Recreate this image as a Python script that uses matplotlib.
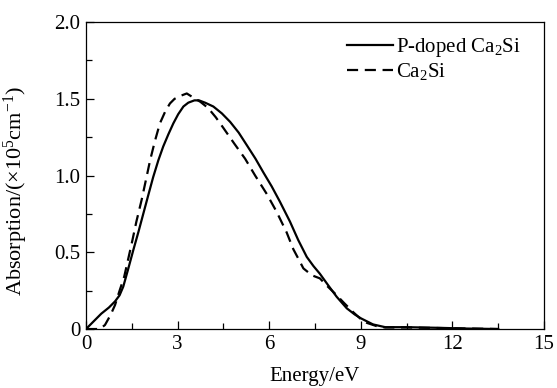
import matplotlib
matplotlib.use("Agg")
import matplotlib.pyplot as plt
from matplotlib.ticker import MultipleLocator

plt.rcParams['font.family'] = ['Liberation Serif', 'DejaVu Serif']
plt.rcParams['mathtext.fontset'] = 'custom'
plt.rcParams['mathtext.rm'] = 'Liberation Serif'
plt.rcParams['mathtext.it'] = 'Liberation Serif:italic'

# P-doped Ca2Si
doped_x = [0, 0.25, 0.5, 0.75, 0.95, 1.1, 1.22, 1.38, 1.55, 1.72, 1.88, 2.05,
           2.2, 2.37, 2.53, 2.7, 2.86, 3.02, 3.19, 3.35, 3.55, 3.7, 3.9, 4.17,
           4.45, 4.72, 5.0, 5.26, 5.55, 5.81, 6.08, 6.35, 6.68, 6.95, 7.23,
           7.45, 7.66, 7.95, 8.21, 8.54, 8.8, 9.0, 9.4, 9.8, 10.5, 11.5, 12.5,
           13.5]
doped_y = [0, 0.05, 0.1, 0.14, 0.18, 0.22, 0.276, 0.39, 0.515, 0.635, 0.754,
           0.88, 0.99, 1.1, 1.19, 1.27, 1.34, 1.40, 1.45, 1.475, 1.49, 1.49,
           1.475, 1.45, 1.405, 1.35, 1.28, 1.2, 1.11, 1.02, 0.93, 0.83, 0.7,
           0.58, 0.47, 0.41, 0.36, 0.28, 0.21, 0.135, 0.095, 0.07, 0.03, 0.012,
           0.012, 0.008, 0.003, 0]

# Ca2Si
pure_x = [0, 0.45, 0.62, 0.8, 0.95, 1.1, 1.25, 1.5, 1.65, 1.82, 1.95, 2.1,
          2.25, 2.42, 2.6, 2.75, 2.9, 3.1, 3.3, 3.5, 3.75, 4.0, 4.25, 4.5,
          4.85, 5.21, 5.54, 5.92, 6.24, 6.57, 6.79, 6.95, 7.12, 7.4, 7.66,
          7.9, 8.16, 8.45, 8.75, 9.0, 9.2, 9.5, 9.8, 10.5, 12.0, 13.5]
pure_y = [0, 0, 0.026, 0.09, 0.156, 0.25, 0.34, 0.56, 0.7, 0.84, 0.96, 1.1,
          1.22, 1.34, 1.42, 1.47, 1.5, 1.52, 1.535, 1.51, 1.48, 1.44, 1.38,
          1.31, 1.21, 1.11, 1.0, 0.88, 0.765, 0.63, 0.52, 0.46, 0.395, 0.35,
          0.33, 0.28, 0.23, 0.17, 0.11, 0.065, 0.04, 0.02, 0.01, 0.01, 0.005,
          0]

fig = plt.figure(figsize=(5.57, 3.88), dpi=100)
ax = fig.add_axes([0.1544, 0.152, 0.8223, 0.791])

ax.plot(doped_x, doped_y, color='black', lw=1.6, label=r'P-doped Ca$_2$Si')
ax.plot(pure_x, pure_y, color='black', lw=1.6, linestyle=(0, (5, 3)),
        label=r'Ca$_2$Si')

ax.set_xlim(0, 15)
ax.set_ylim(0, 2.0)
ax.xaxis.set_major_locator(MultipleLocator(3))
ax.xaxis.set_minor_locator(MultipleLocator(1.5))
ax.yaxis.set_minor_locator(MultipleLocator(0.25))
ax.set_yticks([0, 0.5, 1.0, 1.5, 2.0])
ax.set_yticklabels(['0', '0.5', '1.0', '1.5', '2.0'])
ax.tick_params(which='both', direction='in', labelsize=15, top=False, right=False)
ax.tick_params(which='major', length=6, width=0.9, pad=4)
ax.tick_params(which='minor', length=4, width=0.9)
for s in ax.spines.values():
    s.set_linewidth(0.9)

ax.set_xlabel('Energy/eV', fontsize=15, labelpad=10)
ax.set_ylabel(r'Absorption/($\times$10$^5$cm$^{-1}$)', fontsize=16)
ax.yaxis.set_label_coords(-0.122, 0.45)

ax.legend(loc='upper left', frameon=False, fontsize=15, handlelength=2.2,
          handletextpad=0.15, labelspacing=0.1, borderaxespad=0, borderpad=0,
          bbox_to_anchor=(0.57, 0.955))

fig.savefig('out.png', dpi=100)
